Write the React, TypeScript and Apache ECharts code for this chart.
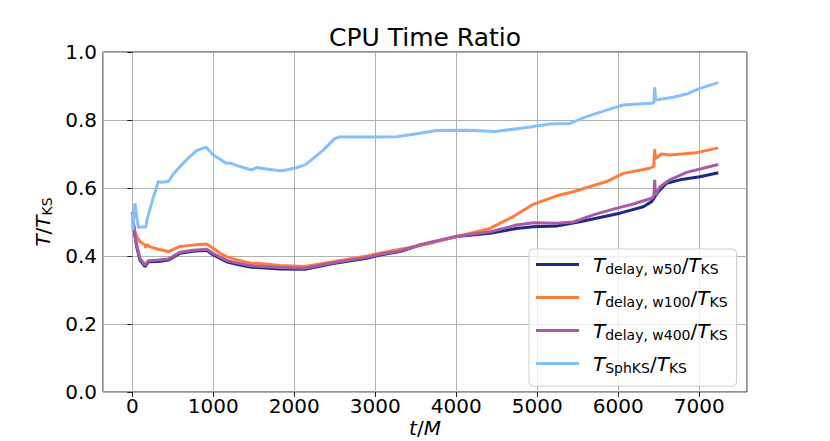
import React, { useEffect, useRef } from "react";
import * as echarts from "echarts";

// SphKS / KS
const sphT = [0, 6, 33, 74, 120, 169, 185, 198, 250, 321, 362, 444, 520, 589, 700, 795, 910, 1000, 1165, 1200, 1300, 1474, 1536, 1650, 1823, 1900, 2000, 2132, 2235, 2350, 2502, 2560, 2800, 3058, 3264, 3552, 3758, 4128, 4478, 4869, 5157, 5404, 5610, 5857, 6062, 6300, 6412, 6440, 6450, 6462, 6500, 6679, 6850, 7009, 7235];
const sphV = [0.526, 0.476, 0.555, 0.484, 0.485, 0.486, 0.511, 0.52, 0.565, 0.619, 0.617, 0.619, 0.645, 0.663, 0.69, 0.71, 0.72, 0.697, 0.672, 0.674, 0.665, 0.653, 0.66, 0.656, 0.651, 0.653, 0.658, 0.668, 0.687, 0.71, 0.746, 0.75, 0.75, 0.75, 0.751, 0.761, 0.769, 0.77, 0.766, 0.778, 0.788, 0.79, 0.81, 0.829, 0.844, 0.848, 0.849, 0.851, 0.896, 0.859, 0.86, 0.867, 0.877, 0.893, 0.91];

// delay w50 / KS
const w50T = [0, 25, 54, 95, 157, 198, 321, 444, 589, 750, 918, 1000, 1083, 1165, 1300, 1474, 1823, 2132, 2481, 2893, 3058, 3305, 3552, 4004, 4416, 4745, 4951, 5239, 5527, 6021, 6309, 6412, 6494, 6597, 6762, 7009, 7235];
const w50V = [0.525, 0.47, 0.427, 0.388, 0.369, 0.383, 0.384, 0.388, 0.408, 0.414, 0.417, 0.403, 0.393, 0.383, 0.375, 0.367, 0.362, 0.361, 0.378, 0.393, 0.403, 0.413, 0.432, 0.457, 0.467, 0.481, 0.486, 0.488, 0.501, 0.526, 0.545, 0.56, 0.589, 0.614, 0.624, 0.633, 0.645];

// delay w100 / KS
const w100T = [0, 25, 54, 95, 140, 157, 165, 177, 218, 321, 444, 589, 750, 918, 1000, 1083, 1165, 1300, 1474, 1536, 1823, 2132, 2481, 2893, 3058, 3305, 3552, 4004, 4416, 4704, 4951, 5239, 5445, 5857, 6062, 6391, 6440, 6450, 6460, 6535, 6638, 6968, 7235];
const w100V = [0.52, 0.48, 0.457, 0.442, 0.435, 0.432, 0.424, 0.434, 0.427, 0.42, 0.413, 0.428, 0.432, 0.435, 0.423, 0.408, 0.398, 0.388, 0.378, 0.379, 0.372, 0.369, 0.383, 0.4, 0.408, 0.42, 0.43, 0.457, 0.481, 0.516, 0.552, 0.577, 0.589, 0.619, 0.643, 0.658, 0.664, 0.714, 0.687, 0.7, 0.697, 0.704, 0.718];

// delay w400 / KS
const w400T = [0, 25, 54, 95, 157, 198, 321, 444, 589, 750, 918, 1000, 1165, 1300, 1474, 1823, 2132, 2481, 2893, 3058, 3305, 3552, 4004, 4416, 4745, 4951, 5239, 5445, 5692, 5939, 6186, 6412, 6440, 6450, 6460, 6515, 6638, 6844, 7235];
const w400V = [0.53, 0.475, 0.432, 0.393, 0.373, 0.386, 0.388, 0.391, 0.411, 0.417, 0.42, 0.407, 0.387, 0.379, 0.371, 0.366, 0.364, 0.38, 0.396, 0.405, 0.415, 0.433, 0.458, 0.471, 0.491, 0.498, 0.496, 0.5, 0.521, 0.538, 0.553, 0.57, 0.575, 0.624, 0.579, 0.604, 0.624, 0.646, 0.669];

const seriesNames = ["w50", "w100", "w400", "SphKS"];
const legendLabels = [
  "{t|T}{s|delay, w50}{n|/}{t|T}{s|KS}",
  "{t|T}{s|delay, w100}{n|/}{t|T}{s|KS}",
  "{t|T}{s|delay, w400}{n|/}{t|T}{s|KS}",
  "{t|T}{s|SphKS}{n|/}{t|T}{s|KS}",
];
const colors = ["#1b2a88", "#ff7d3c", "#a85ca8", "#85c0fa"];
const yTickDecimals = 1;

export default function App() {
  const ref = useRef<HTMLDivElement>(null);
  useEffect(() => {
    const chart = echarts.init(ref.current!, null, { renderer: "svg" });
    const font = "DejaVu Sans";
    const mk = (t: number[], v: number[]) => t.map((x, i) => [x, v[i]]);
    const dataSets = [mk(w50T, w50V), mk(w100T, w100V), mk(w400T, w400V), mk(sphT, sphV)];
    const rich = {
      t: { fontFamily: font, fontStyle: "italic", fontSize: 20, color: "#000", lineHeight: 22 },
      n: { fontFamily: font, fontSize: 20, color: "#000", lineHeight: 22 },
      s: { fontFamily: font, fontSize: 14, color: "#000", lineHeight: 22, padding: [9, 0, 0, 0] },
    };
    chart.setOption({
      animation: false,
      graphic: [
        {
          type: "text",
          x: 425,
          y: 37,
          style: { text: "CPU Time Ratio", fontFamily: font, fontSize: 25, fill: "#000", align: "center", verticalAlign: "middle" },
        },
        {
          type: "text",
          x: 425,
          y: 428,
          style: {
            text: "{i|t}{n|/}{i|M}",
            fontFamily: font,
            fontSize: 20,
            fill: "#000",
            align: "center",
            verticalAlign: "middle",
            rich: {
              i: { fontFamily: font, fontStyle: "italic", fontSize: 20, fill: "#000", lineHeight: 20 },
              n: { fontFamily: font, fontSize: 20, fill: "#000", lineHeight: 20 },
            },
          },
        },
      ],
      grid: {
        left: 103,
        right: 83,
        top: 52,
        bottom: 49,
        containLabel: false,
        outerBoundsMode: "none",
        show: true,
        borderColor: "#222",
        borderWidth: 1,
        backgroundColor: "transparent",
      },
      xAxis: {
        type: "value",
        min: -362,
        max: 7590,
        splitNumber: 8,
        axisLine: { show: false },
        axisTick: { show: true, length: 5, lineStyle: { color: "#222" } },
        axisLabel: {
          fontFamily: font,
          fontSize: 20,
          color: "#000",
          margin: 4,
          showMinLabel: false,
          showMaxLabel: false,
          formatter: (v: number) => String(Math.round(v)),
        },
        splitLine: { show: true, lineStyle: { color: "#b0b0b0", width: 1 } },
      },
      yAxis: {
        type: "value",
        min: 0,
        max: 1,
        interval: 0.2,
        axisLine: { show: false },
        axisTick: { show: true, length: 5, lineStyle: { color: "#222" } },
        axisLabel: { fontFamily: font, fontSize: 20, color: "#000", margin: 6, formatter: (v: number) => v.toFixed(yTickDecimals) },
        splitLine: { show: true, lineStyle: { color: "#b0b0b0", width: 1 } },
        name: "{i|T}{n|/}{i|T}{s|KS}",
        nameLocation: "middle",
        nameGap: 38,
        nameTextStyle: {
          rich: {
            i: { fontFamily: font, fontStyle: "italic", fontSize: 20, color: "#000", lineHeight: 22 },
            n: { fontFamily: font, fontSize: 20, color: "#000", lineHeight: 22 },
            s: { fontFamily: font, fontSize: 14, color: "#000", lineHeight: 22, padding: [9, 0, 0, 0] },
          },
        },
      },
      legend: {
        orient: "vertical",
        left: 529,
        top: 249,
        icon: "rect",
        itemWidth: 43,
        itemHeight: 3,
        itemGap: 10,
        padding: [4, 9, 11, 7],
        backgroundColor: "rgba(255,255,255,0.8)",
        borderColor: "#cccccc",
        borderWidth: 1,
        borderRadius: 4,
        data: seriesNames,
        formatter: (name: string) => legendLabels[seriesNames.indexOf(name)],
        textStyle: { fontFamily: font, fontSize: 20, color: "#000", padding: [0, 0, 0, 9], rich },
      },
      series: seriesNames.map((name, i) => ({
        name,
        type: "line",
        data: dataSets[i],
        showSymbol: false,
        symbol: "none",
        color: colors[i],
        itemStyle: { color: colors[i] },
        lineStyle: { width: 3, color: colors[i] },
        z: 2 + i,
      })),
    });
    return () => chart.dispose();
  }, []);
  return <div ref={ref} style={{ position: "absolute", left: 0, top: 0, width: 830, height: 441 }} />;
}
